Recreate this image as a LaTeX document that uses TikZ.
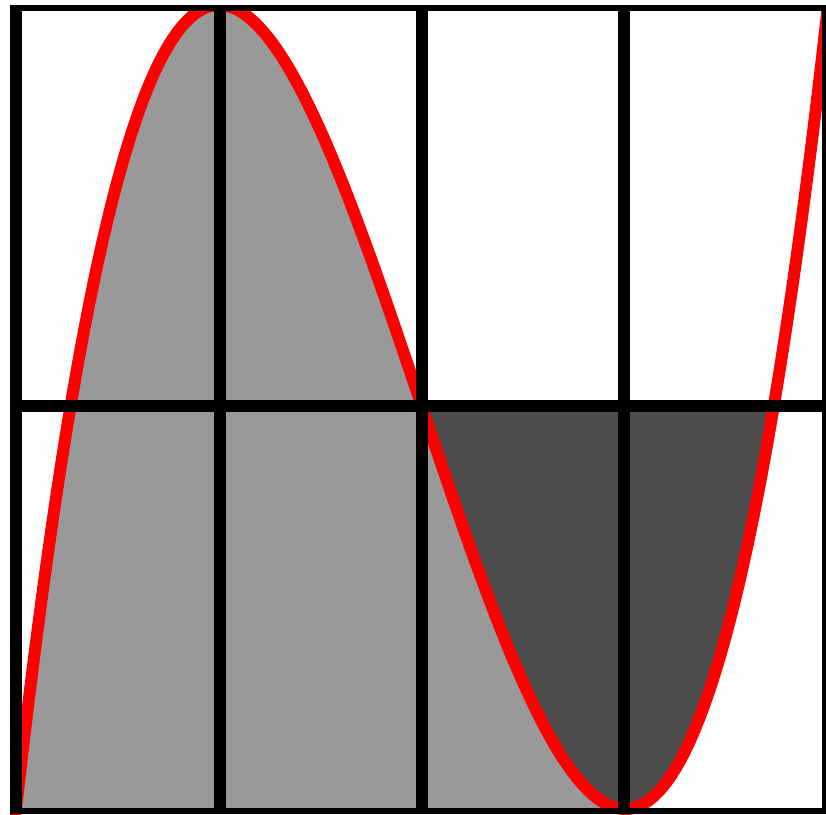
\documentclass[tikz,border=0pt]{standalone}
\definecolor{lightfill}{HTML}{999999}
\definecolor{darkfill}{HTML}{4D4D4D}
\begin{document}
\begin{tikzpicture}[x=1pt,y=-1pt,
  gridline/.style={line width=12pt,black},
  border/.style={fill=black},
  curveline/.style={line width=12pt,red,line join=round},
  declare function={ff(\t)=0.5*\t*(\t-3)*(\t-3); xp(\t)=16+203*\t; yp(\t)=809-402*\t;}]
\useasboundingbox (0,0) rectangle (826,814);
\begin{scope}
  \clip (10,5) rectangle (826,814);
  % light grey area under the curve, x from 0 to 3
  \fill[lightfill] plot[domain=0:3,samples=200] ({xp(\x)},{yp(ff(\x))}) -- cycle;
  % dark grey area between curve and y=1
  \fill[darkfill] plot[domain=2:3.7320508,samples=200] ({xp(\x)},{yp(ff(\x))}) -- cycle;
  % red curve
  \draw[curveline] plot[domain=-0.05:4.05,samples=300] ({xp(\x)},{yp(ff(\x))});
\end{scope}
% grid lines
\draw[gridline] (220,5) -- (220,814);
\draw[gridline] (422,5) -- (422,814);
\draw[gridline] (624,5) -- (624,814);
\draw[gridline] (10,406) -- (826,406);
% outer border
\fill[border] (10,5) rectangle (826,11);
\fill[border] (10,5) rectangle (22,814);
\fill[border] (822,5) rectangle (826,814);
\fill[border] (10,808) rectangle (826,814);
\end{tikzpicture}
\end{document}
